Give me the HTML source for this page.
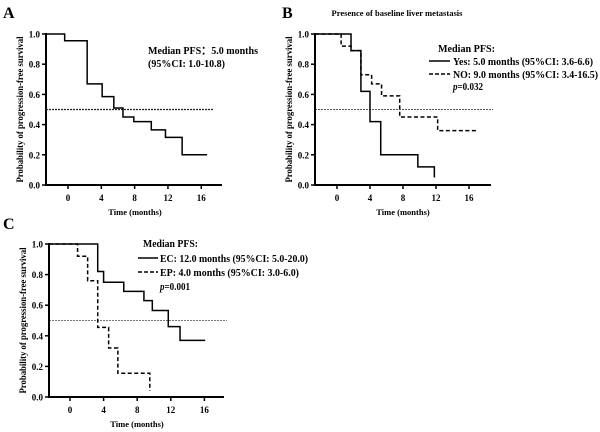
<!DOCTYPE html>
<html><head><meta charset="utf-8"><style>
html,body{margin:0;padding:0;background:#fff;width:600px;height:432px;overflow:hidden}
svg{display:block;font-family:"Liberation Serif",serif;font-weight:bold}
</style></head><body>
<svg id="fig" width="600" height="432" viewBox="0 0 600 432"></svg>
<script>
// Panel A data
const aTimes=[-0.4,2.3,4.1,5.5,6.6,7.9,10,11.7,13.7];
const aSurv=[0.955,0.67,0.585,0.51,0.45,0.42,0.365,0.315,0.2];
const aEnd=16.7;
// Panel B data
const bYesTimes=[1.7,2.9,4.0,5.3,9.8,11.8];
const bYesSurv=[0.89,0.62,0.42,0.2,0.12,0.05];
const bYesEnd=11.8;
const bNoTimes=[0.5,1.7,2.9,4.2,5.4,7.6,12.2];
const bNoSurv=[0.92,0.89,0.73,0.67,0.59,0.45,0.36];
const bNoEnd=17;
// Panel C data
const cEcTimes=[3.3,4.0,6.4,8.8,9.8,11.7,13.1];
const cEcSurv=[0.82,0.75,0.69,0.63,0.565,0.46,0.37];
const cEcEnd=16.1;
const cEpTimes=[0.9,2.1,3.3,4.6,5.7,9.5];
const cEpSurv=[0.92,0.76,0.455,0.32,0.155,0.04];
const cEpEnd=9.5;
const xTicks=[0,4,8,12,16];
const yTicks=[0,0.2,0.4,0.6,0.8,1.0];

const NS="http://www.w3.org/2000/svg";
const svg=document.getElementById('fig');
function el(tag,attrs,parent){const e=document.createElementNS(NS,tag);for(const k in attrs)e.setAttribute(k,attrs[k]);(parent||svg).appendChild(e);return e;}
function txt(s,attrs,parent){const e=el('text',attrs,parent);e.textContent=s;return e;}

function panel(cfg){
  const g=el('g',{});
  
  
  const X=t=>cfg.x0+t*cfg.px;
  const Y=v=>cfg.yb-(cfg.yb-cfg.yt)*v;
  const m=el('line',{x1:cfg.ax,x2:cfg.medEnd,y1:Y(0.5),y2:Y(0.5),stroke:cfg.medColor,'stroke-width':cfg.medW,'stroke-dasharray':'2,1'},g);
  
  
  const ya=el('line',{x1:cfg.ax,x2:cfg.ax,y1:cfg.yt-1,y2:cfg.yb,stroke:'#000','stroke-width':2},g);
  
  
  const xa=el('line',{x1:cfg.ax-1,x2:cfg.axEnd,y1:cfg.yb,y2:cfg.yb,stroke:'#000','stroke-width':2},g);
  
  
  yTicks.forEach(v=>{
    el('line',{x1:cfg.ax-4,x2:cfg.ax,y1:Y(v),y2:Y(v),stroke:'#000','stroke-width':1.5},g);
    const t=txt(v.toFixed(1),{x:cfg.ax-6,y:Y(v)+3.5,'text-anchor':'end','font-size':9},g);
    
    
  });
  xTicks.forEach(v=>{
    el('line',{x1:X(v),x2:X(v),y1:cfg.yb,y2:cfg.yb+4,stroke:'#000','stroke-width':1.5},g);
    const t=txt(String(v),{x:X(v),y:cfg.yb+16,'text-anchor':'middle','font-size':9},g);
    
    
  });
  const xt=txt('Time (months)',{x:cfg.xtX,y:cfg.yb+30,'text-anchor':'middle','font-size':8.5},g);
  
  
  const cy=(cfg.yt+cfg.yb)/2;
  const yt=txt('Probability of progression-free survival',{x:0,y:0,'text-anchor':'middle','font-size':9.5,textLength:146,lengthAdjust:'spacingAndGlyphs',transform:`translate(${cfg.ax-23},${cy}) rotate(-90)`},g);
  
  
  cfg.series.forEach(s=>{
    let d=`M${cfg.ax},${Y(1)}`;
    s.times.forEach((t,i)=>{d+=` H${X(t)} V${Y(s.surv[i])}`;});
    d+=` H${X(s.end)}`;
    const p=el('path',{d:d,fill:'none',stroke:'#000','stroke-width':1.5,'stroke-dasharray':s.dash?'4,2.5':'none'},g);
    
    
  });
}

panel({name:'panel-a',x0:68,px:8.33,ax:46,axEnd:222,yt:34,yb:185,medEnd:214,xtX:135,medColor:'#222',medW:1.3,
  series:[{name:'km-curve-all',times:aTimes,surv:aSurv,end:aEnd,dash:false}]});
panel({name:'panel-b',x0:337,px:8.25,ax:315,axEnd:491,yt:34,yb:185,medEnd:493,xtX:403,medColor:'#555',medW:1,
  series:[{name:'km-curve-yes',times:bYesTimes,surv:bYesSurv,end:bYesEnd,dash:false},
          {name:'km-curve-no',times:bNoTimes,surv:bNoSurv,end:bNoEnd,dash:true}]});
panel({name:'panel-c',x0:70,px:8.4,ax:49,axEnd:224,yt:244,yb:397,medEnd:227,xtX:137,medColor:'#777',medW:1,
  series:[{name:'km-curve-ec',times:cEcTimes,surv:cEcSurv,end:cEcEnd,dash:false},
          {name:'km-curve-ep',times:cEpTimes,surv:cEpSurv,end:cEpEnd,dash:true}]});
</script>
<svg width="600" height="432" style="position:absolute;left:0;top:0">
  <text x="3" y="18" font-size="16">A</text>
  <text x="282" y="18" font-size="16">B</text>
  <text x="3" y="229" font-size="16">C</text>
  <text x="148" y="54" font-size="11" textLength="110" lengthAdjust="spacingAndGlyphs">Median PFS：5.0 months</text>
  <text x="148" y="67" font-size="11" textLength="77" lengthAdjust="spacingAndGlyphs">(95%CI: 1.0-10.8)</text>
  <text x="397" y="16" font-size="8.5" text-anchor="middle" textLength="131" lengthAdjust="spacingAndGlyphs">Presence of baseline liver metastasis</text>
  <text x="438" y="52" font-size="11" textLength="57" lengthAdjust="spacingAndGlyphs">Median PFS:</text>
  <line x1="429" x2="450" y1="61" y2="61" stroke="#000" stroke-width="1.5"/>
  <text x="453" y="65" font-size="11" textLength="140" lengthAdjust="spacingAndGlyphs">Yes: 5.0 months (95%CI: 3.6-6.6)</text>
  <line x1="429" x2="450" y1="74" y2="74" stroke="#000" stroke-width="1.5" stroke-dasharray="4,2"/>
  <text x="453" y="78" font-size="11" textLength="145" lengthAdjust="spacingAndGlyphs">NO: 9.0 months (95%CI: 3.4-16.5)</text>
  <text x="453" y="90" font-size="11" textLength="30" lengthAdjust="spacingAndGlyphs"><tspan font-style="italic">p</tspan>=0.032</text>
  <text x="143" y="247" font-size="11" textLength="55" lengthAdjust="spacingAndGlyphs">Median PFS:</text>
  <line x1="138" x2="158" y1="258" y2="258" stroke="#000" stroke-width="1.5"/>
  <text x="160" y="262" font-size="11" textLength="148" lengthAdjust="spacingAndGlyphs">EC: 12.0 months (95%CI: 5.0-20.0)</text>
  <line x1="138" x2="158" y1="272" y2="272" stroke="#000" stroke-width="1.5" stroke-dasharray="4,2"/>
  <text x="160" y="276" font-size="11" textLength="139" lengthAdjust="spacingAndGlyphs">EP: 4.0 months (95%CI: 3.0-6.0)</text>
  <text x="160" y="290" font-size="11" textLength="30" lengthAdjust="spacingAndGlyphs"><tspan font-style="italic">p</tspan>=0.001</text>
</svg>
</body></html>
